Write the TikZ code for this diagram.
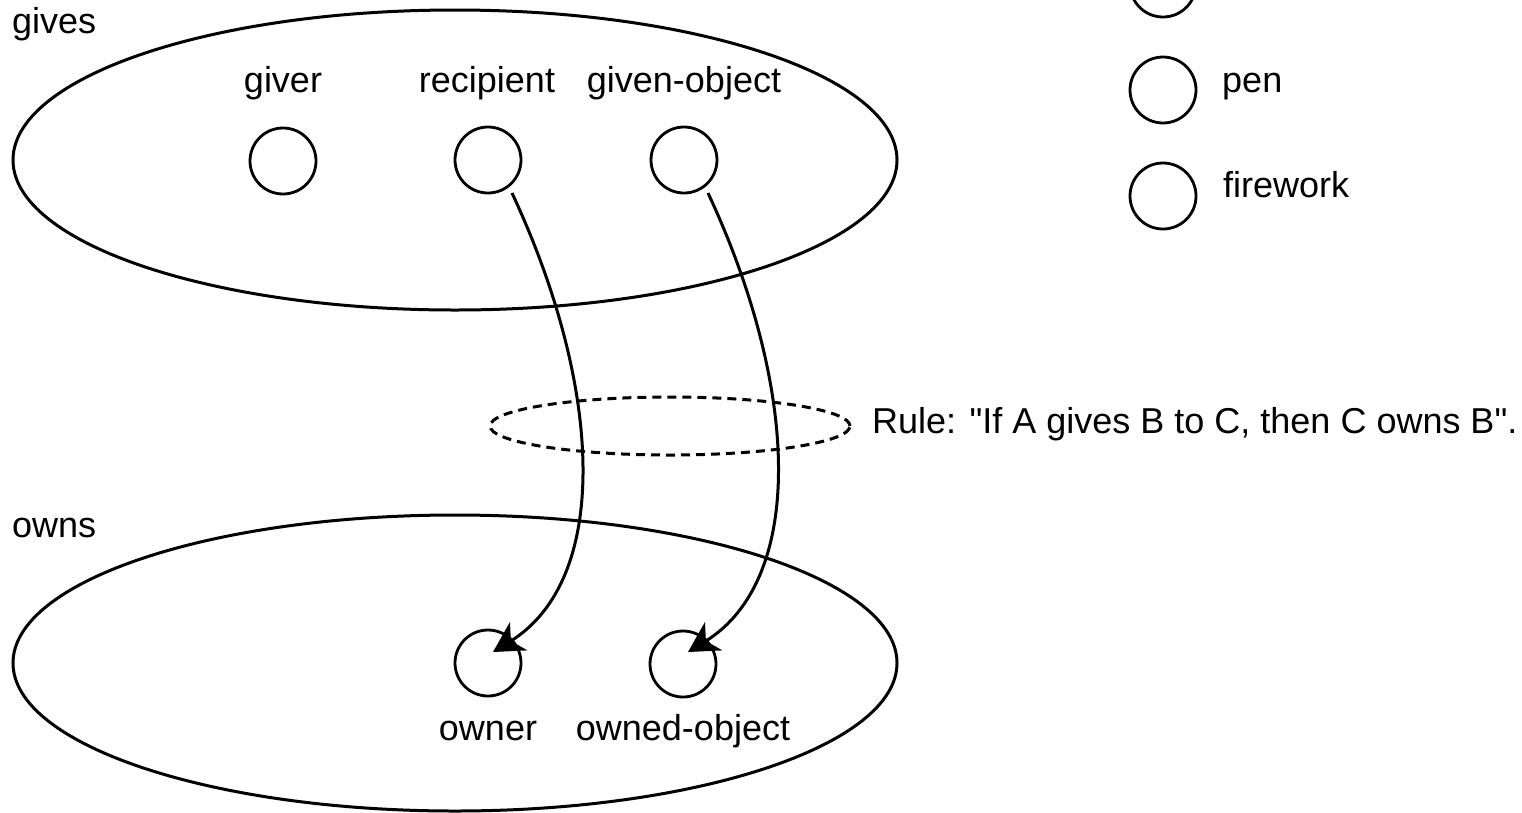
\documentclass[tikz,border=0pt]{standalone}
\usepackage{fontspec}
\setmainfont{Liberation Sans}
\usetikzlibrary{shapes.geometric,arrows.meta}
\def\straightquote{\XeTeXglyph\XeTeXglyphindex "quotedbl"\relax}
\tikzset{
  txt/.style={inner sep=0pt, font=\fontsize{36}{42}\selectfont},
  slot/.style={circle, draw, line width=2.8pt, minimum size=66pt, inner sep=0pt},
  rel/.style={ellipse, draw, line width=3pt, inner sep=0pt},
  link/.style={line width=3pt, -{Stealth[length=30pt, width=33pt, inset=9pt]}},
  rule/.style={ellipse, draw, line width=3pt, dash pattern=on 9pt off 6pt, inner sep=0pt, minimum width=360pt, minimum height=58pt}
}
\begin{document}
\begin{tikzpicture}[x=1pt, y=-1pt]
\useasboundingbox (0,0) rectangle (1522,812);
% relation ellipses
\node[rel, minimum width=884pt, minimum height=300pt] (gv) at (455,160) {};
\node[rel, minimum width=884pt, minimum height=296pt] (ow) at (455,663) {};
\node[txt, anchor=base west] (gvl) at (12,33) {gives};
\node[txt, anchor=base west] (owl) at (12,537) {owns};
% slots
\node[slot] (gc) at (283,161) {};
\node[slot] (rc) at (488,160) {};
\node[slot] (oc1) at (684,160) {};
\node[txt, anchor=base] (gt) at (283,92) {giver};
\node[txt, anchor=base] (rt) at (487,92) {recipient};
\node[txt, anchor=base] (ot1) at (684,92) {given-object};
\node[slot] (owc) at (488,663) {};
\node[slot] (obc) at (683,664) {};
\node[txt, anchor=base] (owt) at (488,740) {owner};
\node[txt, anchor=base] (obt) at (683,740) {owned-object};
% rule
\node[rule] (ru) at (670,426) {};
\node[txt, anchor=base west] (rut) at (872,433) {Rule: \straightquote If A gives B to C, then C owns B\straightquote.};
% connectors
\draw[link] ([shift={(24,33)}]rc.center) .. controls +(92,197) and +(117,-72) .. ([shift={(5,-11)}]owc.center);
\draw[link] ([shift={(24,33)}]oc1.center) .. controls +(92,197) and +(117,-72) .. ([shift={(5,-12)}]obc.center);
% legend
\node[slot] (l0) at (1163,-16) {};
\node[slot] (l1) at (1163,90) {};
\node[slot] (l2) at (1163,196) {};
\node[txt, anchor=base west] (l1t) at (1222,92) {pen};
\node[txt, anchor=base west] (l2t) at (1223,197) {firework};
\end{tikzpicture}
\end{document}
